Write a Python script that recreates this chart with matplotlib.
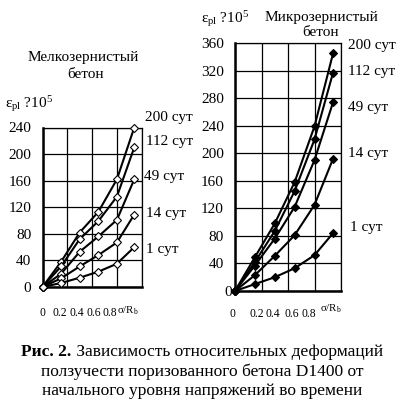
import matplotlib
matplotlib.use("Agg")
import matplotlib.pyplot as plt
from matplotlib.ticker import MultipleLocator
from matplotlib.transforms import blended_transform_factory

plt.rcParams['font.family'] = ['Liberation Serif', 'DejaVu Serif']
plt.rcParams['mathtext.fontset'] = 'custom'
plt.rcParams['mathtext.rm'] = 'Liberation Serif'
plt.rcParams['mathtext.it'] = 'Liberation Serif'

# ---- data ----
x_vals = [0, 0.15, 0.3, 0.45, 0.6, 0.74]
series_names = ["200 сут", "112 сут", "49 сут", "14 сут", "1 сут"]

fine_200 = [0, 38, 82, 113, 162, 240]
fine_112 = [0, 31, 72, 99, 136, 210]
fine_49 = [0, 20, 53, 76, 101, 162]
fine_14 = [0, 13, 31, 48, 67, 109]
fine_1 = [0, 6, 14, 23, 35, 60]

micro_200 = [0, 49, 98, 158, 239, 345]
micro_112 = [0, 42, 87, 145, 220, 317]
micro_49 = [0, 37, 76, 122, 190, 274]
micro_14 = [0, 23, 51, 81, 125, 192]
micro_1 = [0, 10, 20, 33, 52, 84]

x_tick_labels = ["0", "0.2", "0.4", "0.6", "0.8"]
# label positions as drawn in the original (compressed relative to grid)
fine_label_pos = [0.0, 0.141, 0.276, 0.41, 0.543]
micro_label_pos = [-0.018, 0.164, 0.288, 0.429, 0.555]

fine_yticks = [0, 40, 80, 120, 160, 200, 240]
micro_yticks = [0, 40, 80, 120, 160, 200, 240, 280, 320, 360]

W, H = 404, 399
fig = plt.figure(figsize=(W / 100, H / 100), dpi=100)

def px_axes(x0, y0, x1, y1):
    return fig.add_axes([x0 / W, 1 - y1 / H, (x1 - x0) / W, (y1 - y0) / H])

FS = 11
XFS = 8.4

def setup(ax, ymax, yticks, label_pos, label_y_px, unit_x, unit_y_px):
    ax.set_xlim(0, 0.8)
    ax.set_ylim(0, ymax)
    ax.xaxis.set_major_locator(MultipleLocator(0.2))
    ax.set_xticklabels([])
    ax.set_yticks(yticks)
    ax.grid(True, which='major', color='black', lw=0.9)
    ax.tick_params(axis='both', which='both', length=0)
    ax.tick_params(axis='y', pad=8, labelsize=FS)
    for s in ['top', 'right']:
        ax.spines[s].set_linewidth(0.9)
    for s in ['left', 'bottom']:
        ax.spines[s].set_linewidth(1.8)
    ax.set_axisbelow(True)
    # x tick labels placed as in original drawing
    bb = ax.get_position()
    axis_bottom_px = (1 - bb.y0) * H
    off = -(label_y_px - axis_bottom_px) / (bb.height * H)
    tr = blended_transform_factory(ax.transData, ax.transAxes)
    for lab, pos in zip(x_tick_labels, label_pos):
        ax.text(pos, off, lab, transform=tr, ha='center', va='center',
                fontsize=XFS, clip_on=False)
    off2 = -(unit_y_px - axis_bottom_px) / (bb.height * H)
    ax.text(unit_x, off2, r"σ/R$_\mathrm{b}$", transform=tr, ha='center',
            va='center', fontsize=7.8, clip_on=False)

# left panel
axL = px_axes(42.5, 127.5, 141.7, 287)
setup(axL, 240, fine_yticks, fine_label_pos, 313, 0.685, 311)
for ys in [fine_200, fine_112, fine_49, fine_14, fine_1]:
    axL.plot(x_vals, ys, color='black', lw=1.5, marker='D', ms=4.4,
             mfc='white', mec='black', mew=0.8, clip_on=False, zorder=3)

# right panel
axR = px_axes(235, 43, 341, 291)
setup(axR, 360, micro_yticks, micro_label_pos, 314, 0.72, 309)
for ys in [micro_200, micro_112, micro_49, micro_14, micro_1]:
    axR.plot(x_vals, ys, color='black', lw=1.5, marker='D', ms=3.6,
             mfc='black', mec='black', mew=0.8, clip_on=False, zorder=3)
axR.yaxis.get_major_ticks()[0].set_pad(2)

def ftext(x, y, s, **kw):
    fig.text(x / W, 1 - y / H, s, fontsize=kw.pop('fontsize', FS), **kw)

# titles
ftext(83, 57, "Мелкозернистый", ha='center', va='center')
ftext(86, 74, "бетон", ha='center', va='center')
ftext(321, 18, "Микрозернистый", ha='center', va='center')
ftext(321, 33, "бетон", ha='center', va='center')

# axis labels
ftext(5, 104, r"ε$_\mathrm{pl}$ ?10$^5$", ha='left', va='center')
ftext(201, 19, r"ε$_\mathrm{pl}$ ?10$^5$", ha='left', va='center')

# curve labels
left_label_y = [118, 142, 177, 213, 250]
left_label_x = [145, 146, 144, 146, 146]
right_label_y = [45, 71, 107, 154, 227]
right_label_x = [348, 348, 348, 348, 350]
for name, xx, yy in zip(series_names, left_label_x, left_label_y):
    ftext(xx, yy, name, ha='left', va='center')
for name, xx, yy in zip(series_names, right_label_x, right_label_y):
    ftext(xx, yy, name, ha='left', va='center')

# caption
CFS = 12.5
bold_part = "Рис. 2."
rest1 = " Зависимость относительных деформаций"
line2 = "ползучести поризованного бетона D1400 от"
line3 = "начального уровня напряжений во времени"

fig.canvas.draw()
r = fig.canvas.get_renderer()
tb = fig.text(0, 0, bold_part, fontsize=CFS, fontweight='bold')
tn = fig.text(0, 0, rest1, fontsize=CFS)
wb = tb.get_window_extent(r).width
wn = tn.get_window_extent(r).width
x_start = (W - (wb + wn)) / 2
tb.set_position((x_start / W, 1 - 352 / H))
tb.set_va('center')
tn.set_position(((x_start + wb) / W, 1 - 352 / H))
tn.set_va('center')
ftext(202, 372, line2, ha='center', va='center', fontsize=CFS)
ftext(202, 391, line3, ha='center', va='center', fontsize=CFS)

fig.savefig("out.png", dpi=100)
